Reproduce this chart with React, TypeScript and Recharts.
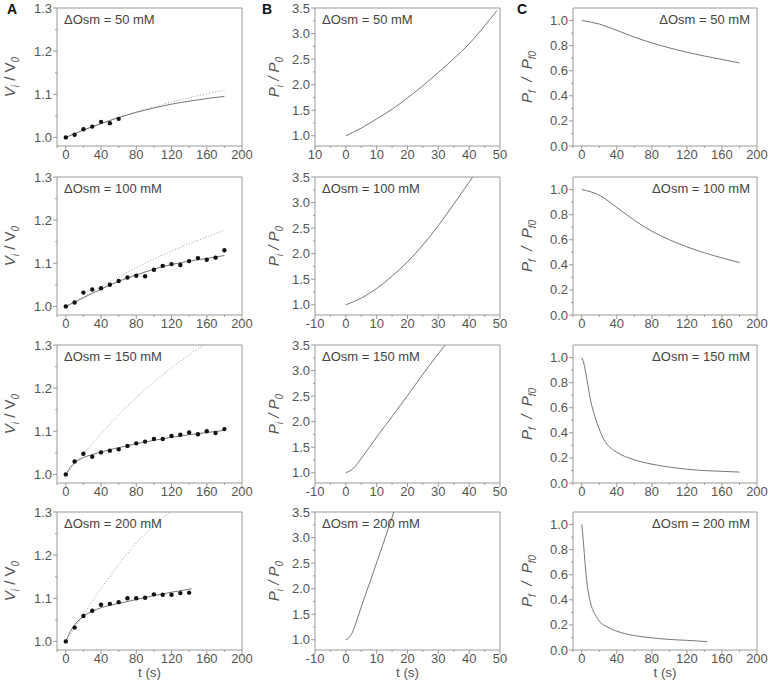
import React from 'react';
import { ComposedChart, Line, XAxis, YAxis, ReferenceArea } from 'recharts';

// ---------- column A: relative volume V_i / V_0 ----------
const tFit = [0, 20, 40, 60, 80, 100, 120, 140, 160, 180];

const tDots50 = [0, 10, 20, 30, 40, 50, 60];
const vDots50 = [1.0, 1.006, 1.019, 1.025, 1.036, 1.033, 1.043];
const vFit50 = [1.0, 1.017, 1.032, 1.046, 1.058, 1.068, 1.077, 1.084, 1.09, 1.095];
const vModel50 = [1.0, 1.017, 1.032, 1.046, 1.059, 1.071, 1.082, 1.092, 1.101, 1.11];

const tDots100 = [0, 10, 20, 30, 40, 50, 60, 70, 80, 90, 100, 110, 120, 130, 140, 150, 160, 170, 180];
const vDots100 = [1.0, 1.009, 1.032, 1.039, 1.042, 1.05, 1.059, 1.067, 1.071, 1.07, 1.085, 1.094, 1.098, 1.096, 1.105, 1.112, 1.108, 1.113, 1.13];
const vFit100 = [1.0, 1.02, 1.04, 1.058, 1.073, 1.086, 1.097, 1.105, 1.111, 1.118];
const vModel100 = [1.0, 1.022, 1.045, 1.068, 1.09, 1.11, 1.128, 1.145, 1.161, 1.177];

const tDots150 = tDots100;
const vDots150 = [1.0, 1.03, 1.048, 1.041, 1.051, 1.055, 1.058, 1.066, 1.072, 1.076, 1.082, 1.082, 1.089, 1.092, 1.097, 1.093, 1.1, 1.096, 1.105];
const tFit150 = [0, 5, 10, 20, 30, 40, 60, 80, 100, 120, 140, 160, 180];
const vFit150 = [1.0, 1.016, 1.027, 1.039, 1.046, 1.052, 1.062, 1.071, 1.079, 1.086, 1.092, 1.097, 1.102];
const vModel150 = [1.0, 1.048, 1.094, 1.138, 1.178, 1.214, 1.247, 1.277, 1.305, 1.331];

const tDots200 = [0, 10, 20, 30, 40, 50, 60, 70, 80, 90, 100, 110, 120, 130, 140];
const vDots200 = [1.0, 1.032, 1.059, 1.071, 1.085, 1.087, 1.091, 1.1, 1.1, 1.101, 1.109, 1.108, 1.108, 1.112, 1.113];
const tFit200 = [0, 5, 10, 20, 30, 40, 60, 80, 100, 120, 143];
const vFit200 = [1.0, 1.022, 1.038, 1.058, 1.07, 1.078, 1.088, 1.097, 1.106, 1.114, 1.122];
const vModel200 = [1.0, 1.062, 1.123, 1.178, 1.228, 1.268, 1.303, 1.335, 1.365, 1.39];

// ---------- column B: P_i / P_0 ----------
const tP50 = [0, 5, 10, 15, 20, 25, 30, 35, 40, 45, 49];
const p50 = [1.0, 1.15, 1.33, 1.52, 1.74, 1.98, 2.24, 2.51, 2.8, 3.15, 3.45];
const tP100 = [0, 5, 10, 15, 20, 25, 30, 35, 40, 42];
const p100 = [1.0, 1.13, 1.32, 1.56, 1.84, 2.17, 2.55, 2.97, 3.4, 3.58];
const tP150 = [0, 2.5, 5, 7.5, 10, 15, 20, 25, 30, 33];
const p150 = [1.0, 1.09, 1.28, 1.49, 1.7, 2.1, 2.51, 2.93, 3.33, 3.56];
const tP200 = [0, 1, 2, 3, 4, 5, 6, 7, 8, 10, 12, 14, 16];
const p200 = [1.0, 1.04, 1.13, 1.28, 1.46, 1.64, 1.82, 1.99, 2.16, 2.51, 2.86, 3.22, 3.57];

// ---------- column C: P_f / P_f0 ----------
const tC = [0, 20, 40, 60, 80, 100, 120, 140, 160, 180];
const c50 = [1.0, 0.972, 0.922, 0.868, 0.822, 0.782, 0.747, 0.717, 0.69, 0.662];
const c100 = [1.0, 0.955, 0.858, 0.755, 0.668, 0.6, 0.543, 0.496, 0.455, 0.418];
const tC150 = [0, 2.5, 5, 10, 15, 20, 25, 30, 40, 60, 80, 100, 120, 140, 160, 180];
const c150 = [1.0, 0.95, 0.86, 0.66, 0.53, 0.43, 0.35, 0.3, 0.245, 0.185, 0.15, 0.127, 0.11, 0.099, 0.093, 0.087];
const tC200 = [0, 2, 4, 6, 8, 10, 15, 20, 30, 40, 60, 80, 100, 120, 143];
const c200 = [1.0, 0.85, 0.67, 0.53, 0.44, 0.375, 0.285, 0.23, 0.18, 0.15, 0.115, 0.097, 0.084, 0.077, 0.067];

// ---------- axis ticks ----------
const tMajor = [0, 40, 80, 120, 160, 200];
const tMinor = [-10, 20, 60, 100, 140, 180];
const vMajor = [1.0, 1.1, 1.2, 1.3];
const vMinor = [1.05, 1.15, 1.25];
const pxMajor = [-10, 0, 10, 20, 30, 40, 50];
const pxMinor = [-5, 5, 15, 25, 35, 45];
const pMajor = [1.0, 1.5, 2.0, 2.5, 3.0, 3.5];
const pMinor = [1.25, 1.75, 2.25, 2.75, 3.25];
const cMajor = [0, 0.2, 0.4, 0.6, 0.8, 1.0];
const cMinor = [0.1, 0.3, 0.5, 0.7, 0.9];

const osmLabels = ['ΔOsm = 50 mM', 'ΔOsm = 100 mM', 'ΔOsm = 150 mM', 'ΔOsm = 200 mM'];

const zip = (t: number[], v: number[]) => t.map((x, i) => ({ t: x, v: v[i] }));

const FONT = '"Liberation Sans", Arial, sans-serif';
const TXT = '#555';
const AXIS = '#9a9a9a';
const PLOT_H = 138;
const TOP = 10;
const rowTops = [8, 177, 345, 512];

const near = (a: number[], v: number) => a.some((m) => Math.abs(m - v) < 1e-6);

function XTick(props: any) {
  const { x, y, payload, majors, fmt } = props;
  const major = near(majors, payload.value);
  return (
    <g>
      <line x1={x} x2={x} y1={y} y2={y + (major ? 4 : 2)} stroke={AXIS} />
      {major && (
        <text x={x} y={y + 13} textAnchor="middle" fontSize={13} fill={TXT} fontFamily={FONT}>
          {fmt(payload.value)}
        </text>
      )}
    </g>
  );
}

function YTick(props: any) {
  const { x, y, payload, majors } = props;
  const major = near(majors, payload.value);
  return (
    <g>
      <line x1={x} x2={x - (major ? 4 : 2)} y1={y} y2={y} stroke={AXIS} />
      {major && (
        <text x={x - 5} y={y + 4.5} textAnchor="end" fontSize={13} fill={TXT} fontFamily={FONT}>
          {payload.value.toFixed(1)}
        </text>
      )}
    </g>
  );
}

type Series = { data: { t: number; v: number }[]; kind: 'fit' | 'model' | 'dots' };

interface PanelProps {
  colLeft: number;
  plotLeft: number;
  plotRight: number;
  row: number;
  xDomain: [number, number];
  xMajor: number[];
  xMinor: number[];
  xFmt?: (v: number) => string;
  yDomain: [number, number];
  yMajor: number[];
  yMinor: number[];
  title: 'V' | 'P' | 'F';
  titleX: number;
  noteRight?: boolean;
  series: Series[];
}

function YTitle({ kind, cx, cy }: { kind: 'V' | 'P' | 'F'; cx: number; cy: number }) {
  const common = { fontSize: 15, fill: TXT, fontFamily: FONT };
  let parts: React.ReactNode;
  if (kind === 'V') {
    parts = (
      <>
        <tspan fontStyle="italic">V</tspan>
        <tspan fontStyle="italic" fontSize={10} dy={4}>i</tspan>
        <tspan dy={-4}> / V</tspan>
        <tspan fontStyle="italic" fontSize={10} dy={4}>0</tspan>
      </>
    );
  } else if (kind === 'P') {
    parts = (
      <>
        <tspan fontStyle="italic">P</tspan>
        <tspan fontStyle="italic" fontSize={10} dy={4}>i</tspan>
        <tspan dy={-4} fontStyle="italic"> / P</tspan>
        <tspan fontStyle="italic" fontSize={10} dy={4}>0</tspan>
      </>
    );
  } else {
    parts = (
      <>
        <tspan fontStyle="italic">P</tspan>
        <tspan fontStyle="italic" fontSize={10} dy={4}>f</tspan>
        <tspan dy={-4} fontStyle="italic">{'  /  P'}</tspan>
        <tspan fontStyle="italic" fontSize={10} dy={4}>f0</tspan>
      </>
    );
  }
  return (
    <text x={cx} y={cy} textAnchor="middle" transform={`rotate(-90, ${cx}, ${cy})`} {...common} style={{ whiteSpace: 'pre' }}>
      {parts}
    </text>
  );
}

function Panel(p: PanelProps) {
  const bottom = p.row === 3;
  const xH = bottom ? 30 : 22;
  const rightPad = 14;
  const width = p.plotRight - p.colLeft + rightPad;
  const height = TOP + PLOT_H + xH;
  const yW = p.plotLeft - p.colLeft;
  const xFmt = p.xFmt ?? ((v: number) => String(v));
  const midX = (p.plotLeft + p.plotRight) / 2 - p.colLeft;
  return (
    <div style={{ position: 'absolute', left: p.colLeft, top: rowTops[p.row] - TOP }}>
      <ComposedChart width={width} height={height} margin={{ top: TOP, right: rightPad, left: 0, bottom: 0 }}>
        <XAxis
          dataKey="t"
          type="number"
          domain={p.xDomain}
          allowDataOverflow
          ticks={[...p.xMajor, ...p.xMinor].sort((a, b) => a - b)}
          interval={0}
          height={xH}
          axisLine={false}
          tickLine={false}
          tickSize={0}
          tickMargin={0}
          tick={(tp: any) => <XTick {...tp} majors={p.xMajor} fmt={xFmt} />}
          label={
            bottom
              ? {
                  content: () => (
                    <text x={midX} y={TOP + PLOT_H + 26.5} textAnchor="middle" fontSize={13.5} fill={TXT} fontFamily={FONT}>
                      t (s)
                    </text>
                  ),
                }
              : undefined
          }
        />
        <YAxis
          type="number"
          domain={p.yDomain}
          allowDataOverflow
          ticks={[...p.yMajor, ...p.yMinor].sort((a, b) => a - b)}
          interval={0}
          width={yW}
          axisLine={false}
          tickLine={false}
          tickSize={0}
          tickMargin={0}
          tick={(tp: any) => <YTick {...tp} majors={p.yMajor} />}
          label={{
            content: () => <YTitle kind={p.title} cx={p.titleX - p.colLeft} cy={TOP + PLOT_H / 2} />,
          }}
        />
        <ReferenceArea
          x1={p.xDomain[0]}
          x2={p.xDomain[1]}
          y1={p.yDomain[0]}
          y2={p.yDomain[1]}
          fill="none"
          fillOpacity={0}
          stroke={AXIS}
          strokeWidth={1}
          ifOverflow="visible"
          label={{
            value: osmLabels[p.row],
            position: p.noteRight ? 'insideTopRight' : 'insideTopLeft',
            offset: 7,
            fontSize: 13,
            fill: '#444',
            fontFamily: FONT,
          }}
        />
        {p.series.map((s, i) =>
          s.kind === 'dots' ? (
            <Line
              key={i}
              data={s.data}
              dataKey="v"
              type="linear"
              stroke="none"
              dot={{ r: 2.2, fill: '#111', stroke: 'none' }}
              activeDot={false}
              isAnimationActive={false}
            />
          ) : (
            <Line
              key={i}
              data={s.data}
              dataKey="v"
              type="monotone"
              stroke={s.kind === 'fit' ? '#666' : '#999'}
              strokeWidth={s.kind === 'fit' ? 0.9 : 1}
              strokeDasharray={s.kind === 'model' ? '1 2' : undefined}
              dot={false}
              activeDot={false}
              isAnimationActive={false}
            />
          )
        )}
      </ComposedChart>
    </div>
  );
}

const colA = { colLeft: 0, plotLeft: 57, plotRight: 242, xDomain: [-10, 200] as [number, number], xMajor: tMajor, xMinor: tMinor, yDomain: [0.98, 1.3] as [number, number], yMajor: vMajor, yMinor: vMinor, title: 'V' as const, titleX: 15 };
const colB = { colLeft: 258, plotLeft: 315, plotRight: 500, xDomain: [-10, 50] as [number, number], xMajor: pxMajor, xMinor: pxMinor, yDomain: [0.8, 3.5] as [number, number], yMajor: pMajor, yMinor: pMinor, title: 'P' as const, titleX: 279 };
const colC = { colLeft: 515, plotLeft: 573, plotRight: 757, xDomain: [-10, 200] as [number, number], xMajor: tMajor, xMinor: tMinor, yDomain: [0, 1.1] as [number, number], yMajor: cMajor, yMinor: cMinor, title: 'F' as const, titleX: 532, noteRight: true };

const seriesA: Series[][] = [
  [
    { data: zip(tFit, vModel50), kind: 'model' },
    { data: zip(tFit, vFit50), kind: 'fit' },
    { data: zip(tDots50, vDots50), kind: 'dots' },
  ],
  [
    { data: zip(tFit, vModel100), kind: 'model' },
    { data: zip(tFit, vFit100), kind: 'fit' },
    { data: zip(tDots100, vDots100), kind: 'dots' },
  ],
  [
    { data: zip(tFit, vModel150), kind: 'model' },
    { data: zip(tFit150, vFit150), kind: 'fit' },
    { data: zip(tDots150, vDots150), kind: 'dots' },
  ],
  [
    { data: zip(tFit, vModel200), kind: 'model' },
    { data: zip(tFit200, vFit200), kind: 'fit' },
    { data: zip(tDots200, vDots200), kind: 'dots' },
  ],
];
const seriesB: Series[][] = [
  [{ data: zip(tP50, p50), kind: 'fit' }],
  [{ data: zip(tP100, p100), kind: 'fit' }],
  [{ data: zip(tP150, p150), kind: 'fit' }],
  [{ data: zip(tP200, p200), kind: 'fit' }],
];
const seriesC: Series[][] = [
  [{ data: zip(tC, c50), kind: 'fit' }],
  [{ data: zip(tC, c100), kind: 'fit' }],
  [{ data: zip(tC150, c150), kind: 'fit' }],
  [{ data: zip(tC200, c200), kind: 'fit' }],
];

const letterStyle: React.CSSProperties = {
  position: 'absolute',
  top: 1,
  fontFamily: FONT,
  fontWeight: 'bold',
  fontSize: 14,
  color: '#111',
};

export default function App() {
  const rows = [0, 1, 2, 3];
  return (
    <div style={{ position: 'absolute', left: 0, top: 0, width: 768, height: 680, background: '#fff', fontFamily: FONT, overflow: 'hidden' }}>
      <div style={{ ...letterStyle, left: 7 }}>A</div>
      <div style={{ ...letterStyle, left: 262 }}>B</div>
      <div style={{ ...letterStyle, left: 517 }}>C</div>
      {rows.map((r) => (
        <Panel key={'a' + r} {...colA} row={r} series={seriesA[r]} />
      ))}
      {rows.map((r) => (
        <Panel
          key={'b' + r}
          {...colB}
          row={r}
          series={seriesB[r]}
          xFmt={r === 0 ? (v: number) => String(Math.abs(v)) : undefined}
        />
      ))}
      {rows.map((r) => (
        <Panel key={'c' + r} {...colC} row={r} series={seriesC[r]} />
      ))}
    </div>
  );
}
